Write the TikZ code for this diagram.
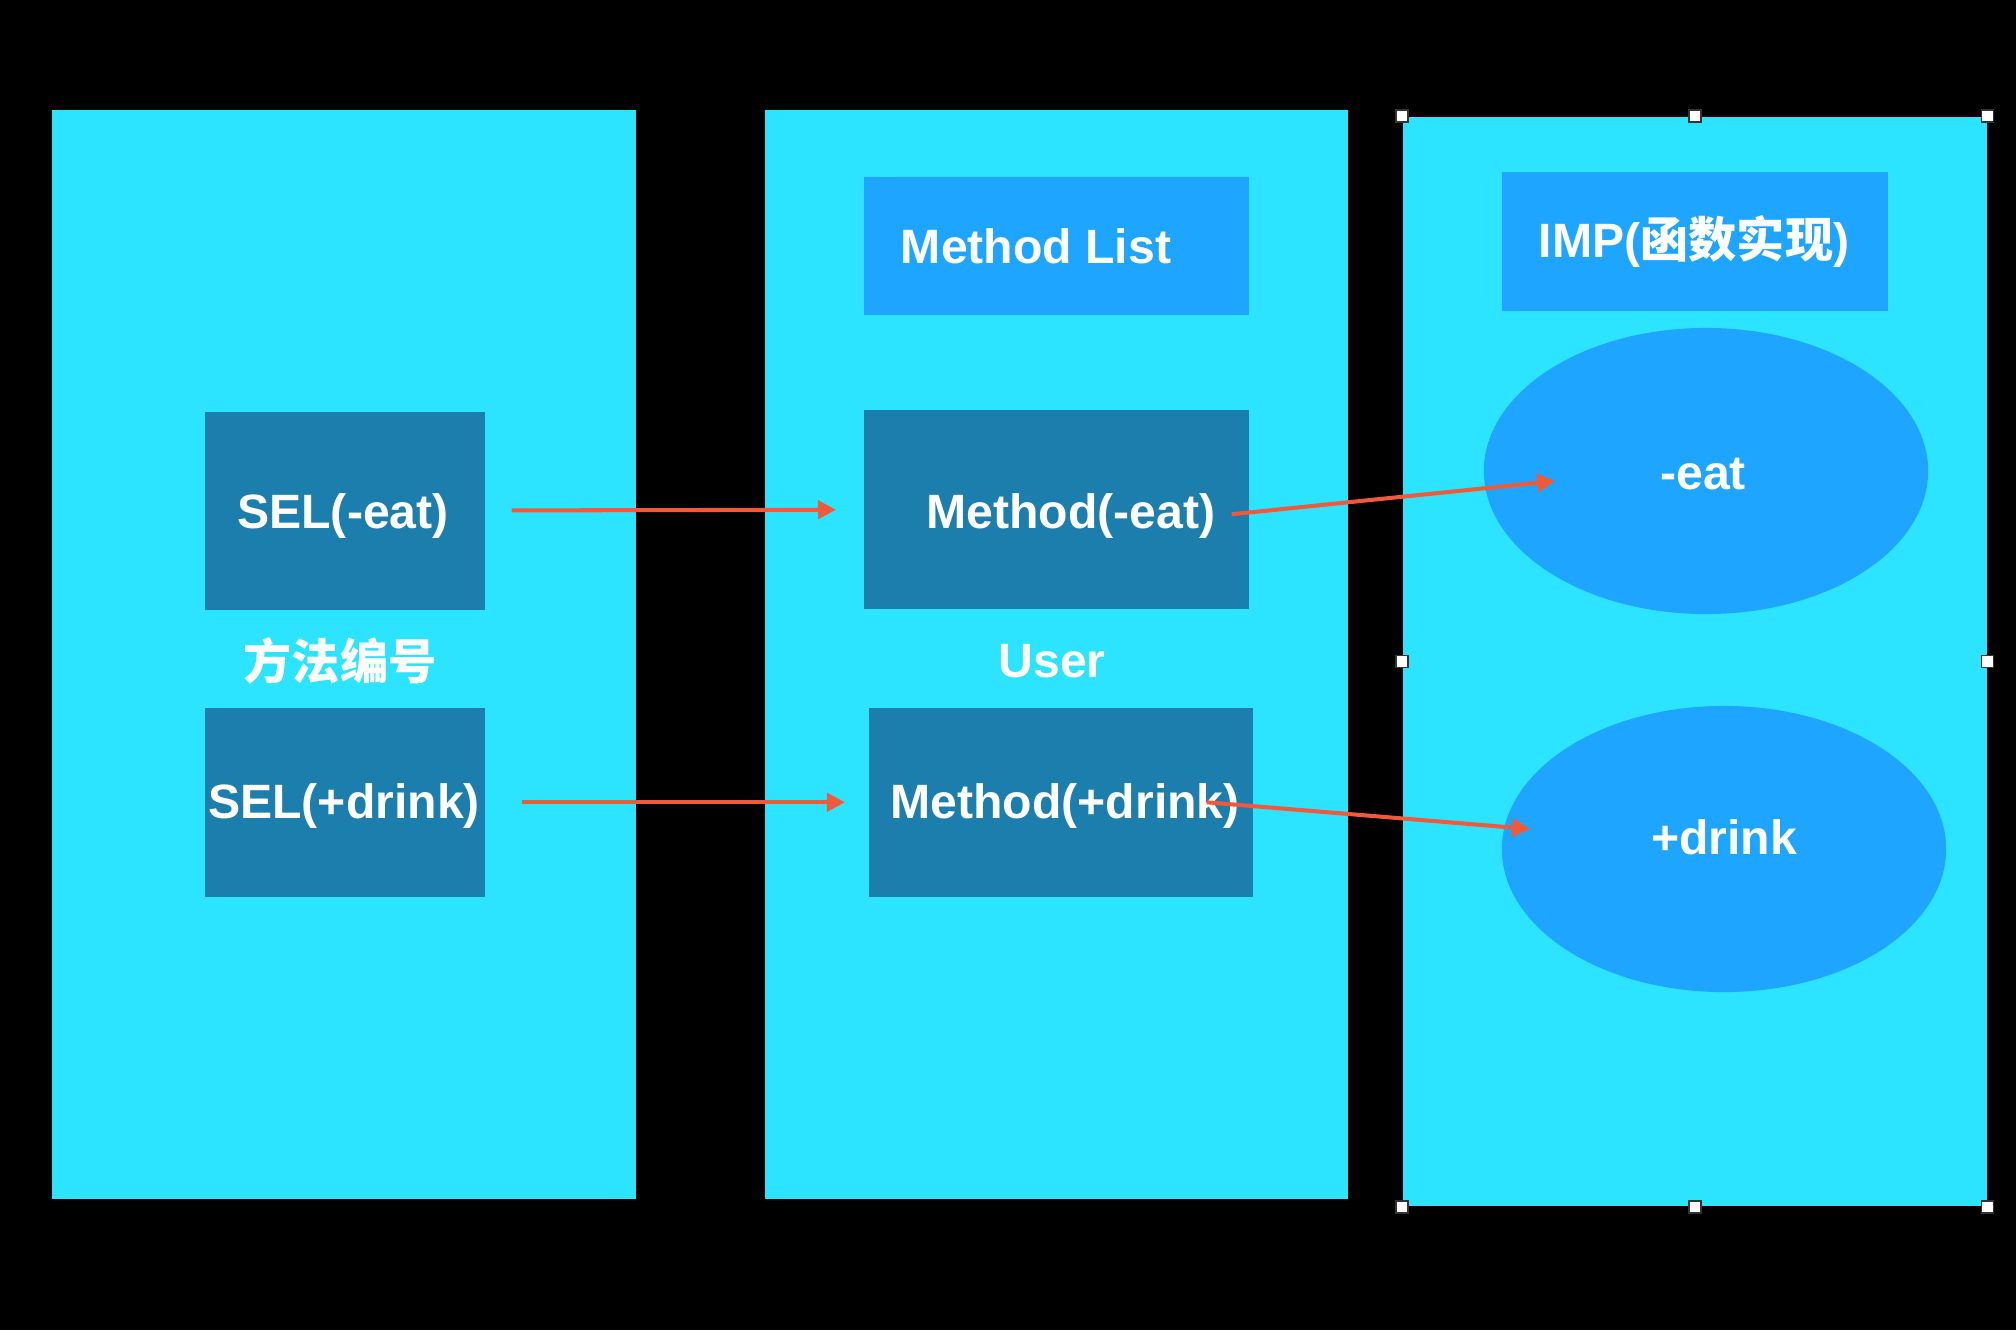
\documentclass[tikz,border=0pt]{standalone}
\usepackage{fontspec}
\setmainfont{Liberation Sans}
\newfontfamily\cjk{Noto Sans CJK SC}
\usetikzlibrary{shapes.geometric,arrows.meta}
\definecolor{panel}{HTML}{2CE4FF}
\definecolor{darkbox}{HTML}{1C7EAD}
\definecolor{midblue}{HTML}{1EA5FF}
\definecolor{arrowc}{HTML}{F05A3A}
\begin{document}
\begin{tikzpicture}[x=0.01cm,y=-0.01cm,
  panelbox/.style={fill=panel,draw=none,inner sep=0,anchor=north west,minimum width=5.84cm,minimum height=10.89cm},
  darkrect/.style={fill=darkbox,draw=none,inner sep=0,anchor=north west},
  midrect/.style={fill=midblue,draw=none,inner sep=0,anchor=north west},
  oval/.style={ellipse,fill=midblue,draw=none,inner sep=0,minimum width=4.44cm,minimum height=2.86cm},
  lbl/.style={text=white,font=\fontsize{13.7}{16}\selectfont\bfseries,inner sep=0},
  arr/.style={draw=arrowc,line width=1.15pt,-{Triangle[length=0.18cm,width=0.18cm]}},
  handle/.style={draw=black!80,fill=white,minimum size=0.12cm,inner sep=0,line width=0.4pt}]
\fill[black] (0,0) rectangle (2016,1330);
\useasboundingbox (0,0) rectangle (2016,1330);
% panels
\node[panelbox] (pl) at (51,109) {};
\node[panelbox,minimum width=5.83cm] (pm) at (764,109) {};
\node[panelbox] (pr) at (1402,116) {};
% header boxes
\node[midrect,minimum width=3.85cm,minimum height=1.38cm] (ml) at (863,176) {};
\node[midrect,minimum width=3.86cm,minimum height=1.39cm] (imp) at (1501,171) {};
% dark boxes
\node[darkrect,minimum width=2.80cm,minimum height=1.98cm] (sel1) at (204,411) {};
\node[darkrect,minimum width=2.80cm,minimum height=1.89cm] (sel2) at (204,707) {};
\node[darkrect,minimum width=3.85cm,minimum height=1.99cm] (m1) at (863,409) {};
\node[darkrect,minimum width=3.84cm,minimum height=1.89cm] (m2) at (868,707) {};
% ellipses
\node[oval] (e1) at (1706,471) {};
\node[oval] (e2) at (1724,849) {};
% labels
\node[lbl] (tml) at (1036,246) {Method List};
\node[lbl] (timp) at (1694,242) {IMP({\cjk 函数实现})};
\node[lbl] (tsel1) at (343,516) {SEL(-eat)};
\node[lbl] (tsel2) at (344,806) {SEL(+drink)};
\node[lbl] (tm1) at (1071,516) {Method(-eat)};
\node[lbl] (tm2) at (1065,806) {Method(+drink)};
\node[lbl] (te1) at (1703,474) {-eat};
\node[lbl] (te2) at (1724,837) {+drink};
\node[lbl] (tnum) at (340,661) {\cjk 方法编号};
\node[lbl] (tuser) at (1052,661) {User};
% arrows
\draw[arr,shorten <=0.26cm,shorten >=0.27cm] (sel1) -- (m1);
\draw[arr,shorten <=0.36cm,shorten >=0.23cm] (sel2) -- (m2);
\draw[arr] ([shift={(-18,5)}]m1.east) -- ([shift={(72,10)}]e1.west);
\draw[arr] ([shift={(-47,0)}]m2.east) -- ([shift={(29,-20)}]e2.west);
% selection handles
\foreach \a/\n in {north west/h1,north/h2,north east/h3,west/h4,east/h5,south west/h6,south/h7,south east/h8}
  \node[handle] (\n) at (pr.\a) {};
\end{tikzpicture}
\end{document}
